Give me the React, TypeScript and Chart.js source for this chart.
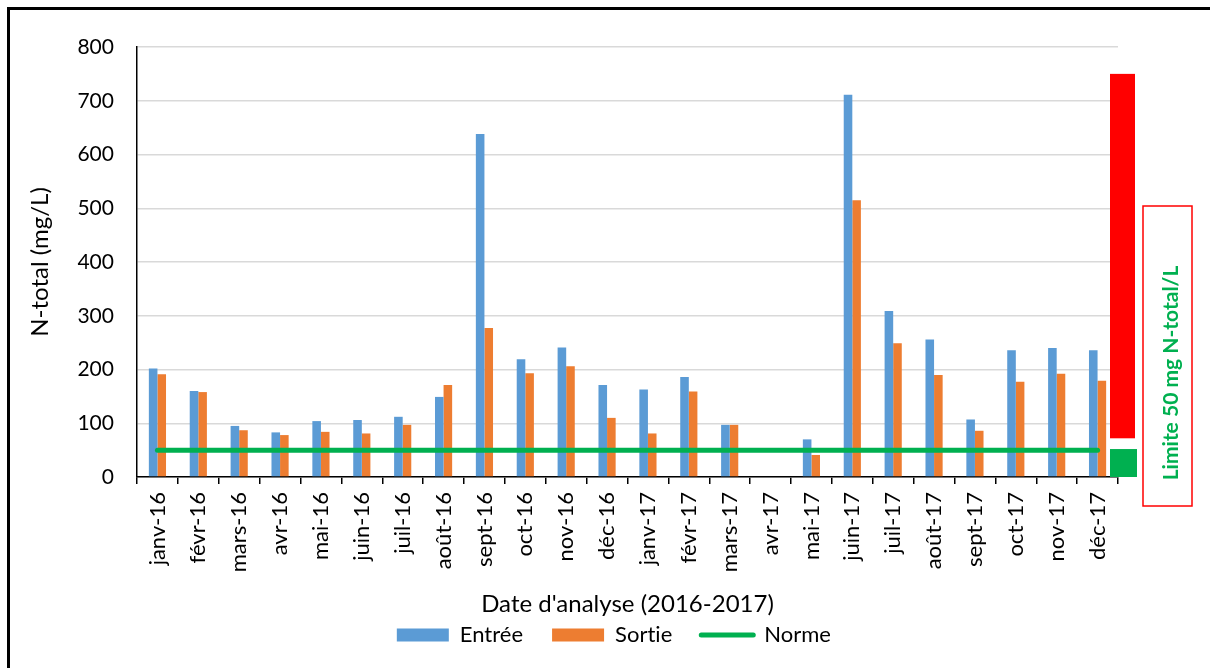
import React, { useEffect, useRef } from "react";
import { Chart, registerables } from "chart.js";

Chart.register(...registerables);

const CATEGORIES = [
  "janv-16", "févr-16", "mars-16", "avr-16", "mai-16", "juin-16",
  "juil-16", "août-16", "sept-16", "oct-16", "nov-16", "déc-16",
  "janv-17", "févr-17", "mars-17", "avr-17", "mai-17", "juin-17",
  "juil-17", "août-17", "sept-17", "oct-17", "nov-17", "déc-17",
];

const ENTREE = [202, 160, 95, 83, 104, 106, 112, 149, 638, 219, 241, 171,
  163, 186, 97, null, 70, 711, 309, 256, 107, 236, 240, 236];
const SORTIE = [191, 158, 87, 78, 84, 81, 97, 171, 277, 193, 206, 110,
  81, 159, 97, null, 41, 515, 249, 190, 86, 177, 192, 179];
const NORME = [50, 50, 50, 50, 50, 50, 50, 50, 50, 50, 50, 50,
  50, 50, 50, 50, 50, 50, 50, 50, 50, 50, 50, 50];

const Y_TICKS = [0, 100, 200, 300, 400, 500, 600, 700, 800];
const RED_RANGE = [72, 750];
const GREEN_RANGE = [0, 52];
const LIMIT_TEXT = "Limite 50 mg N-total/L";

const FONT = "Lato, 'Noto Sans', sans-serif";
const BOTTOM_PAD = 12;
const PLOT_BOTTOM = 477;
const PLOT_LEFT = 137;
const PLOT_RIGHT = 1118;
const PAD_LEFT = 28;
const PAD_RIGHT = 10;

const decorPlugin = {
  id: "decor",
  beforeDraw(chart: any) {
    const ctx = chart.ctx;
    try { (ctx as any).letterSpacing = "0.01px"; } catch (e) {}
    ctx.save();
    ctx.fillStyle = "#ffffff";
    ctx.fillRect(0, 0, chart.width, chart.height);
    ctx.fillStyle = "#000000";
    ctx.fillRect(7, 7, 3, chart.height);
    ctx.fillRect(7, 7, chart.width, 3);
    ctx.restore();
  },
  afterDatasetsDraw(chart: any) {
    const ctx = chart.ctx;
    const y = chart.scales.y;
    const r = chart.chartArea.right;
    ctx.save();
    const rTop = y.getPixelForValue(RED_RANGE[1]);
    const rBot = y.getPixelForValue(RED_RANGE[0]);
    ctx.fillStyle = "#FF0000";
    ctx.fillRect(r - 8, rTop, 25, rBot - rTop);
    const gTop = y.getPixelForValue(GREEN_RANGE[1]);
    const gBot = y.getPixelForValue(GREEN_RANGE[0]);
    ctx.fillStyle = "#00B050";
    ctx.fillRect(r - 8, gTop, 27, gBot - gTop);
    ctx.strokeStyle = "#FF0000";
    ctx.lineWidth = 1.5;
    ctx.strokeRect(r + 25, 206, 49, 300);
    ctx.translate(r + 53, 373);
    ctx.rotate(-Math.PI / 2);
    ctx.fillStyle = "#00B050";
    ctx.font = "bold 21px " + FONT;
    ctx.textAlign = "center";
    ctx.textBaseline = "middle";
    ctx.fillText(LIMIT_TEXT, 0, 0);
    ctx.restore();
  },
};

export default function App() {
  const ref = useRef<HTMLCanvasElement | null>(null);

  useEffect(() => {
    if (!ref.current) return;
    Chart.defaults.font.family = FONT;
    Chart.defaults.color = "#000000";
    const chart = new Chart(ref.current, {
      type: "bar",
      data: {
        labels: CATEGORIES,
        datasets: [
          {
            label: "Entrée",
            data: ENTREE as any,
            backgroundColor: "#5B9BD5",
            borderWidth: 0,
            categoryPercentage: 0.42,
            barPercentage: 1,
            yAxisID: "y",
          },
          {
            label: "Sortie",
            data: SORTIE as any,
            backgroundColor: "#ED7D31",
            borderWidth: 0,
            categoryPercentage: 0.42,
            barPercentage: 1,
            yAxisID: "y",
          },
          {
            type: "line" as any,
            label: "Norme",
            data: NORME,
            borderColor: "#00B050",
            backgroundColor: "#00B050",
            borderWidth: 5,
            borderCapStyle: "round",
            pointRadius: 0,
            order: -1,
            yAxisID: "y",
          } as any,
        ],
      },
      options: {
        animation: false,
        responsive: false,
        layout: { padding: { left: PAD_LEFT, top: 47, right: PAD_RIGHT, bottom: BOTTOM_PAD } },
        plugins: {
          tooltip: { enabled: false },
          legend: {
            position: "bottom",
            labels: {
              usePointStyle: true,
              pointStyleWidth: 52,
              boxHeight: 13,
              padding: 29,
              font: { size: 22, family: FONT },
              color: "#000",
              sort: (a: any, b: any) => a.datasetIndex - b.datasetIndex,
              generateLabels(chart: any) {
                const items = Chart.defaults.plugins.legend.labels.generateLabels(chart);
                return items.map((it: any) => {
                  if (it.datasetIndex === 2) {
                    return { ...it, pointStyle: "line", lineWidth: 5, strokeStyle: "#00B050", lineCap: "round" };
                  }
                  return { ...it, pointStyle: "rect", lineWidth: 0, strokeStyle: "rgba(0,0,0,0)" };
                });
              },
            },
          },
        },
        scales: {
          x: {
            offset: true,
            afterFit(scale: any) {
              const legendH = scale.chart.legend ? scale.chart.legend.height : 0;
              scale.height = scale.chart.height - BOTTOM_PAD - legendH - PLOT_BOTTOM;
            },
            grid: {
              offset: true,
              drawOnChartArea: false,
              color: "#000",
              lineWidth: 1.5,
              tickLength: 7,
            },
            border: { color: "#000", width: 1.5 },
            ticks: {
              minRotation: 90,
              maxRotation: 90,
              autoSkip: false,
              padding: 8,
              font: { size: 22, family: FONT },
              color: "#000",
            },
            title: {
              display: true,
              text: "Date d'analyse (2016-2017)",
              font: { size: 24, family: FONT },
              color: "#000",
              padding: { top: 0, bottom: -24 },
            },
          },
          y: {
            position: "left",
            min: 0,
            max: 800,
            afterBuildTicks(scale: any) {
              scale.ticks = Y_TICKS.map((v) => ({ value: v }));
            },
            afterFit(scale: any) {
              scale.width = PLOT_LEFT - PAD_LEFT;
            },
            grid: { color: "#D9D9D9", lineWidth: 1.5, drawTicks: false },
            border: { color: "#000", width: 1.5 },
            ticks: {
              padding: 23,
              font: { size: 21, family: FONT },
              color: "#000",
            },
            title: {
              display: true,
              text: "N-total (mg/L)",
              font: { size: 24, family: FONT },
              color: "#000",
              padding: { top: -2, bottom: 0 },
            },
          },
          ySpace: {
            type: "linear",
            position: "right",
            min: 0,
            max: 800,
            afterFit(scale: any) {
              scale.width = scale.chart.width - PAD_RIGHT - PLOT_RIGHT;
            },
            grid: { display: false, drawOnChartArea: false, drawTicks: false },
            border: { display: false },
            ticks: { display: false },
          },
        },
      },
      plugins: [decorPlugin],
    });
    return () => chart.destroy();
  }, []);

  return (
    <div style={{ position: "fixed", left: 0, top: 0, width: 1210, height: 668 }}>
      <canvas ref={ref} width={1210} height={668} style={{ display: "block" }} />
    </div>
  );
}
